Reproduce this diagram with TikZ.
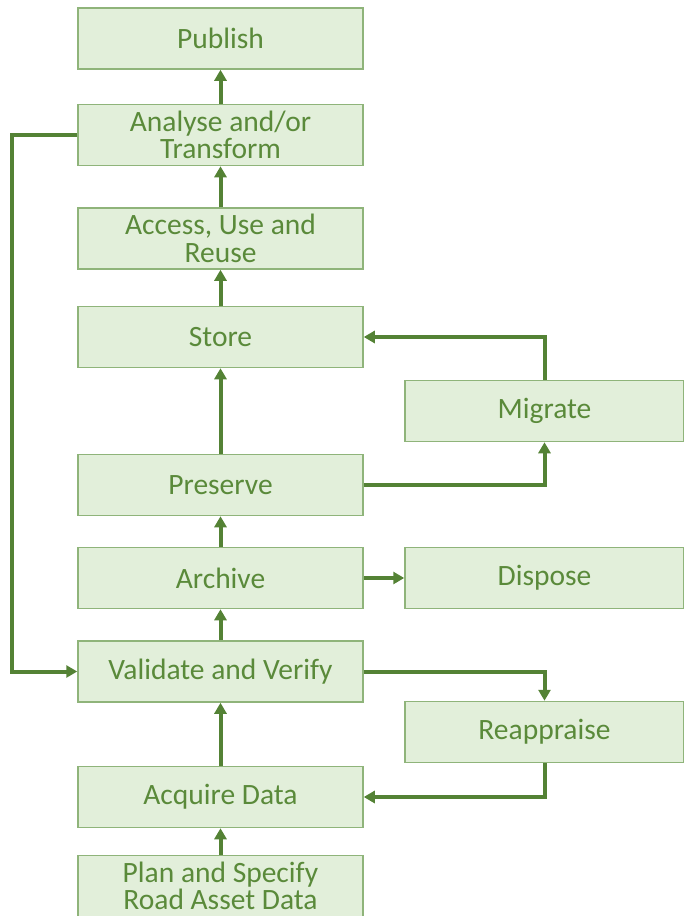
\documentclass[tikz,border=0pt]{standalone}
\usepackage{fontspec}
\setmainfont{Carlito}
\usepackage{tikz}
\usetikzlibrary{arrows.meta}
\definecolor{boxfill}{HTML}{E2EFDA}
\definecolor{boxline}{HTML}{8FB47A}
\definecolor{textgreen}{HTML}{5A8A3A}
\definecolor{arrowgreen}{HTML}{548235}
\tikzset{
	stagebox/.style={draw=boxline, fill=boxfill, line width=1.5pt, minimum width=285pt, minimum height=61pt,
		inner sep=0pt, align=center, text=textgreen, font=\fontsize{29.5}{27.5}\selectfont},
	sidebox/.style={stagebox, minimum width=279pt},
	flow/.style={-{Triangle[width=12pt,length=11pt]}, draw=arrowgreen, line width=4pt}
}

\begin{document}
\begin{tikzpicture}[x=1pt,y=-1pt]
	\useasboundingbox (0,0) rectangle (683,916);
	% main column
	\node[stagebox] (publish) at (220.5,38.5) {Publish};
	\node[stagebox] (analyse) at (220.5,135) {Analyse and/or\\Transform};
	\node[stagebox] (access) at (220.5,238.5) {Access, Use and\\Reuse};
	\node[stagebox] (store) at (220.5,337) {Store};
	\node[stagebox] (preserve) at (220.5,485) {Preserve};
	\node[stagebox] (archive) at (220.5,578) {Archive};
	\node[stagebox] (validate) at (220.5,671.5) {Validate and Verify};
	\node[stagebox] (acquire) at (220.5,797) {Acquire Data};
	\node[stagebox] (plan) at (220.5,886) {Plan and Specify\\Road Asset Data};
	% side column
	\node[sidebox] (migrate) at (544.5,411) {Migrate};
	\node[sidebox] (dispose) at (544.5,578) {Dispose};
	\node[sidebox] (reappraise) at (544.5,732) {Reappraise};
	\coordinate (loop) at (12,135);

	\draw[flow] (plan) -- (acquire);
	\draw[flow] (acquire) -- (validate);
	\draw[flow] (validate) -- (archive);
	\draw[flow] (archive) -- (preserve);
	\draw[flow] (preserve) -- (store);
	\draw[flow] (store) -- (access);
	\draw[flow] (access) -- (analyse);
	\draw[flow] (analyse) -- (publish);
	\draw[flow] (archive) -- (dispose);
	\draw[flow] (preserve.east) -| (migrate.south);
	\draw[flow] (migrate.north) |- (store.east);
	\draw[flow] (validate.east) -| (reappraise.north);
	\draw[flow] (reappraise.south) |- (acquire.east);
	\draw[flow] (analyse.west) -- (loop) |- (validate.west);
\end{tikzpicture}
\end{document}
